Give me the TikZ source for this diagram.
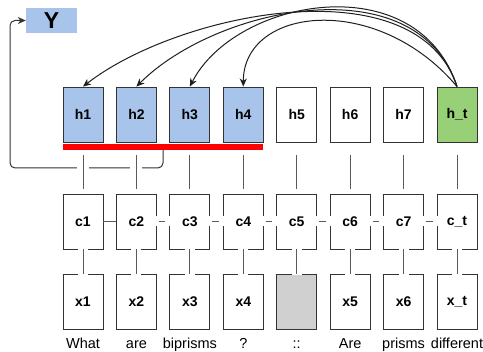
\documentclass[tikz,border=0pt]{standalone}
\usepackage{fontspec}
\setmainfont{Liberation Sans}
\usetikzlibrary{arrows.meta}
\definecolor{hblue}{HTML}{A9C4EB}
\definecolor{hgreen}{HTML}{97D077}
\definecolor{pad}{HTML}{D0D0D0}
\definecolor{edge}{HTML}{333333}
\definecolor{wirecol}{HTML}{5A5A5A}
\begin{document}
\begin{tikzpicture}[x=1pt,y=-1pt,
  cell/.style={draw=edge,line width=0.9pt,minimum width=40pt,minimum height=55pt,
    inner sep=0pt,font=\fontsize{14}{16}\selectfont\bfseries},
  word/.style={anchor=base,inner sep=0pt,font=\fontsize{14.5}{16}\selectfont},
  wire/.style={draw=wirecol,line width=0.8pt},
  hcwire/.style={wire,shorten <=13pt,shorten >=5pt,preaction={draw=white,line width=12pt}},
  cxwire/.style={wire,preaction={draw=white,line width=10pt,shorten <=-1.5pt,shorten >=-1.5pt}},
  ccwire/.style={wire,shorten <=2pt,shorten >=4pt,
    preaction={draw=white,line width=10pt,shorten <=-1.5pt,shorten >=-1.5pt}},
  tip/.tip={Stealth[length=8pt,width=7pt,inset=2.5pt]},
  attn/.style={draw=black!88,line width=1pt,-tip},
]
\useasboundingbox (0,0) rectangle (483,352);

% output label
\node (Y) [fill=hblue,minimum width=51pt,minimum height=25pt,inner sep=0pt,
  font=\fontsize{23}{24}\selectfont\bfseries] at (51.5,20.5) {Y};

% hidden states, cell states, inputs and words
\foreach \i/\hx/\hf/\cx/\xx/\xf/\w [evaluate=\i as \px using 83+53.43*(\i-1)] in
  {1/h1/hblue/c1/x1/white/What,
   2/h2/hblue/c2/x2/white/are,
   3/h3/hblue/c3/x3/white/biprisms,
   4/h4/hblue/c4/x4/white/?,
   5/h5/white/c5//pad/::,
   6/h6/white/c6/x5/white/Are,
   7/h7/white/c7/x6/white/prisms,
   8/h\_t/hgreen/c\_t/x\_t/white/different}{
  \node (h\i) [cell,fill=\hf] at (\px,114.5) {\hx};
  \node (c\i) [cell,fill=white] at (\px,221.5) {\cx};
  \node (x\i) [cell,fill=\xf] at (\px,301.5) {\xx};
  \node (w\i) [word] at (\px,348.5) {\w};
}

% selected span
\node (bar) [fill=red,minimum width=200pt,minimum height=6pt,inner sep=0pt] at (163,147) {};

% pooled span feeds the output
\draw[wire,draw=edge,line width=1pt,rounded corners=5pt,-tip]
  (bar.south) |- (10,168) |- (Y.west);

% vertical links
\foreach \i in {1,...,8}{
  \draw[hcwire] (h\i.south) -- (c\i.north);
  \draw[cxwire] (c\i.south) -- (x\i.north);
}

% recurrence along the cell states
\draw[wire] (c1.east) -- (c2.west);
\foreach \i [evaluate=\i as \j using int(\i+1)] in {2,...,7}{
  \draw[ccwire] (c\i.east) -- (c\j.west);
}

% attention from the last hidden state
\draw[attn] (h8.north) .. controls +(-40,-122) and +(97,-75) .. (h1.north);
\draw[attn] (h8.north) .. controls +(-40,-122) and +(80,-80) .. (h2.north);
\draw[attn] (h8.north) .. controls +(-40,-122) and +(45,-88) .. (h3.north);
\draw[attn] (h8.north) .. controls +(-80,-95) and +(0,-80) .. (h4.north);
\end{tikzpicture}
\end{document}
